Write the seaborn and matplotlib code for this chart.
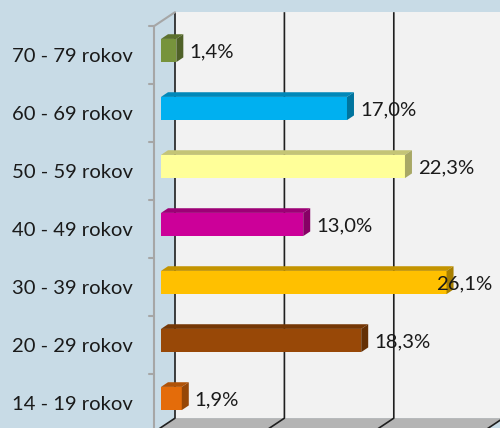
import pandas as pd
import seaborn as sns
import matplotlib.pyplot as plt
from matplotlib.patches import Polygon
from matplotlib.colors import to_rgb

# Data (top to bottom as shown in the chart)
categories = ['70 - 79 rokov', '60 - 69 rokov', '50 - 59 rokov', '40 - 49 rokov',
              '30 - 39 rokov', '20 - 29 rokov', '14 - 19 rokov']
shares = [1.4, 17.0, 22.3, 13.0, 26.1, 18.3, 1.9]
colors = ['#77933C', '#00B0F0', '#FFFF99', '#CC0099', '#FFC000', '#984807', '#E46C0A']
grid_values = [0, 10, 20, 30]

df = pd.DataFrame({'vek': categories, 'podiel': shares})

sns.set_theme(style='white')
plt.rcParams['font.family'] = ['Lato', 'DejaVu Sans']

W, H = 500, 428
K = 10.94        # pixels per percent
ROW = 58         # pixels per category
DX, DY = 21, 14  # 3d depth of the box in pixels
TXT = '#1a1a1a'
FS = 14.6

fig = plt.figure(figsize=(5, 4.28), dpi=100)
fig.patch.set_facecolor('#C8DBE6')
ax = fig.add_axes([0, 0, 1, 1])
ax.set_facecolor('none')

sns.barplot(data=df, x='podiel', y='vek', hue='vek', palette=colors, saturation=1,
            width=0.4, orient='h', legend=False, ax=ax, zorder=5, linewidth=0)
bars = list(ax.patches)

ax.set_xlim(-161 / K, (W - 161) / K)
ax.set_ylim((H - 50.5) / ROW, -50.5 / ROW)
ax.axis('off')


def proj(v, i, d):
    # value, category position, depth (0 front .. 1 back) -> data coords
    return v + (DX * d - DX / 3) / K, i + (DY / 3 - DY * d) / ROW


lo, hi = -0.5, len(categories) - 0.5
vmax = grid_values[-1]

# back wall and floor
ax.add_patch(Polygon([proj(0, lo, 1), proj(vmax + 5, lo, 1), proj(vmax + 5, hi, 1), proj(0, hi, 1)],
                     closed=True, facecolor='#F2F2F2', edgecolor='none', zorder=1))
ax.add_patch(Polygon([proj(0, hi, 0), proj(vmax, hi, 0), proj(vmax, hi, 1), proj(0, hi, 1)],
                     closed=True, facecolor='#B4B4B4', edgecolor='none', zorder=1))

# gridlines on back wall and floor
for g in grid_values:
    pts = [proj(g, lo, 1), proj(g, hi, 1), proj(g, hi, 0)]
    ax.plot([p[0] for p in pts], [p[1] for p in pts], color='#1f1f1f', lw=1.2, zorder=2,
            solid_capstyle='butt')

# front value axis with ticks
pts = [proj(0, hi + 0.3, 0), proj(0, lo, 0), proj(0, lo, 1)]
ax.plot([p[0] for p in pts], [p[1] for p in pts], color='#A6A6A6', lw=1.5, zorder=3)
for j in range(len(categories) + 1):
    x, y = proj(0, lo + j, 0)
    ax.plot([x - 5 / K, x], [y, y], color='#A6A6A6', lw=1.5, zorder=3)

# 3d top and side faces of the bars
ox, oy = DX / 3 / K, -DY / 3 / ROW
for patch, c in zip(bars, colors):
    x0, y0 = patch.get_x(), patch.get_y()
    w, h = patch.get_width(), patch.get_height()
    dark = tuple(ch * 0.77 for ch in to_rgb(c))
    darker = tuple(ch * 0.66 for ch in to_rgb(c))
    top = [(x0, y0), (x0 + w, y0), (x0 + w + ox, y0 + oy), (x0 + ox, y0 + oy)]
    side = [(x0 + w, y0), (x0 + w, y0 + h), (x0 + w + ox, y0 + h + oy), (x0 + w + ox, y0 + oy)]
    ax.add_patch(Polygon(top, closed=True, facecolor=dark, edgecolor='none', zorder=6))
    ax.add_patch(Polygon(side, closed=True, facecolor=darker, edgecolor='none', zorder=6))

# value labels
labels = []
for i, v in enumerate(shares):
    txt = f'{v:.1f}'.replace('.', ',') + '%'
    t = ax.text(v + ox + 6 / K, i + 1.5 / ROW, txt, ha='left', va='center',
                fontsize=FS, color=TXT, zorder=8)
    labels.append(t)

# category labels
for i, cat in enumerate(categories):
    x, y = proj(0, i, 0)
    ax.text(x - 21 / K, y + 1 / ROW, cat, ha='right', va='center', fontsize=FS, color=TXT)

# keep value labels inside the picture (like Excel does)
fig.canvas.draw()
r = fig.canvas.get_renderer()
for t in labels:
    bb = t.get_window_extent(r)
    if bb.x1 > W - 7:
        xr = ax.transData.inverted().transform((W - 8, 0))[0]
        t.set_x(xr)
        t.set_ha('right')

fig.savefig('out.png', dpi=100, facecolor=fig.get_facecolor())
